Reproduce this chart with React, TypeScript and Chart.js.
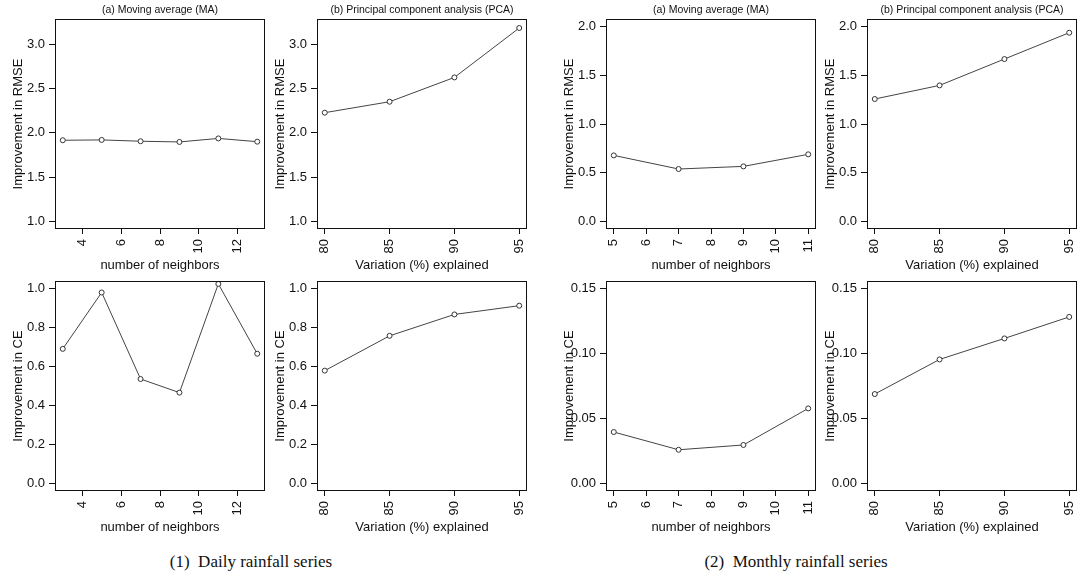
import React, { useEffect, useRef } from "react";
import { Chart, registerables } from "chart.js";

Chart.register(...registerables);

// ---- data ----
const dailyNeighbors = [3, 5, 7, 9, 11, 13];
const monthlyNeighbors = [5, 7, 9, 11];
const pcaVariation = [80, 85, 90, 95];

const dailyMaRmse = [1.916, 1.92, 1.905, 1.897, 1.937, 1.9];
const dailyPcaRmse = [2.228, 2.352, 2.627, 3.186];
const dailyMaCe = [0.691, 0.981, 0.536, 0.466, 1.025, 0.666];
const dailyPcaCe = [0.579, 0.758, 0.868, 0.913];
const monthlyMaRmse = [0.677, 0.537, 0.564, 0.688];
const monthlyPcaRmse = [1.257, 1.397, 1.668, 1.939];
const monthlyMaCe = [0.0395, 0.0258, 0.0295, 0.0577];
const monthlyPcaCe = [0.0688, 0.0955, 0.1117, 0.1283];

// tick labels
const xTicksDailyMa = [4, 6, 8, 10, 12];
const xTicksMonthlyMa = [5, 6, 7, 8, 9, 10, 11];
const xTicksPca = [80, 85, 90, 95];
const yTicksDailyRmse = [1.0, 1.5, 2.0, 2.5, 3.0];
const yTicksDailyCe = [0, 0.2, 0.4, 0.6, 0.8, 1.0];
const yTicksMonthlyRmse = [0, 0.5, 1.0, 1.5, 2.0];
const yTicksMonthlyCe = [0, 0.05, 0.1, 0.15];

// y limits (before R's 4% extension)
const ylimDailyRmse = [1, 3.2];
const ylimDailyCe = [0, 1];
const ylimMonthlyRmse = [0, 2];
const ylimMonthlyCe = [0, 0.15];

const panelTitles = ["(a) Moving average (MA)", "(b) Principal component analysis (PCA)"];
const xTitles = ["number of neighbors", "Variation (%) explained"];
const yTitles = ["Improvement in RMSE", "Improvement in CE"];
const captions = ["(1)  Daily rainfall series", "(2)  Monthly rainfall series"];

const SANS = '"Liberation Sans", Arial, Helvetica, sans-serif';
const INK = "#111";

const extend = (lo: number, hi: number) => {
  const d = (hi - lo) * 0.04;
  return [lo - d, hi + d];
};

type Panel = {
  left: number;
  top: number;
  xs: number[];
  ys: number[];
  xTicks: number[];
  yTicks: number[];
  ylim: number[];
  decimals: number;
  title: string | null;
  xTitle: string;
  yTitle: string;
};

const colLefts = [55, 317, 606, 867];
const rowTops = [19, 281];

const panels: Panel[] = [
  { left: colLefts[0], top: rowTops[0], xs: dailyNeighbors, ys: dailyMaRmse, xTicks: xTicksDailyMa, yTicks: yTicksDailyRmse, ylim: ylimDailyRmse, decimals: 1, title: panelTitles[0], xTitle: xTitles[0], yTitle: yTitles[0] },
  { left: colLefts[1], top: rowTops[0], xs: pcaVariation, ys: dailyPcaRmse, xTicks: xTicksPca, yTicks: yTicksDailyRmse, ylim: ylimDailyRmse, decimals: 1, title: panelTitles[1], xTitle: xTitles[1], yTitle: yTitles[0] },
  { left: colLefts[0], top: rowTops[1], xs: dailyNeighbors, ys: dailyMaCe, xTicks: xTicksDailyMa, yTicks: yTicksDailyCe, ylim: ylimDailyCe, decimals: 1, title: null, xTitle: xTitles[0], yTitle: yTitles[1] },
  { left: colLefts[1], top: rowTops[1], xs: pcaVariation, ys: dailyPcaCe, xTicks: xTicksPca, yTicks: yTicksDailyCe, ylim: ylimDailyCe, decimals: 1, title: null, xTitle: xTitles[1], yTitle: yTitles[1] },
  { left: colLefts[2], top: rowTops[0], xs: monthlyNeighbors, ys: monthlyMaRmse, xTicks: xTicksMonthlyMa, yTicks: yTicksMonthlyRmse, ylim: ylimMonthlyRmse, decimals: 1, title: panelTitles[0], xTitle: xTitles[0], yTitle: yTitles[0] },
  { left: colLefts[3], top: rowTops[0], xs: pcaVariation, ys: monthlyPcaRmse, xTicks: xTicksPca, yTicks: yTicksMonthlyRmse, ylim: ylimMonthlyRmse, decimals: 1, title: panelTitles[1], xTitle: xTitles[1], yTitle: yTitles[0] },
  { left: colLefts[2], top: rowTops[1], xs: monthlyNeighbors, ys: monthlyMaCe, xTicks: xTicksMonthlyMa, yTicks: yTicksMonthlyCe, ylim: ylimMonthlyCe, decimals: 2, title: null, xTitle: xTitles[0], yTitle: yTitles[1] },
  { left: colLefts[3], top: rowTops[1], xs: pcaVariation, ys: monthlyPcaCe, xTicks: xTicksPca, yTicks: yTicksMonthlyCe, ylim: ylimMonthlyCe, decimals: 2, title: null, xTitle: xTitles[1], yTitle: yTitles[1] },
];

const PLOT = 210;
const PAD_L = 55;
const PAD_T = 19;
const PAD_R = 14;
const PAD_B = 45;
const CW = PAD_L + PLOT + PAD_R;
const CH = PAD_T + PLOT + PAD_B;

const framePlugin = {
  id: "frame",
  afterDraw(chart: any, _args: any, opts: any) {
    const { ctx, chartArea: a } = chart;
    ctx.save();
    ctx.strokeStyle = INK;
    ctx.lineWidth = 1;
    ctx.strokeRect(a.left + 0.5, a.top + 0.5, a.right - a.left - 1, a.bottom - a.top - 1);
    ctx.fillStyle = INK;
    ctx.textAlign = "center";
    ctx.textBaseline = "middle";
    const cx = (a.left + a.right) / 2;
    if (opts.title) {
      ctx.font = `10.5px ${SANS}`;
      ctx.fillText(opts.title, cx, a.top - 9);
    }
    ctx.font = `13px ${SANS}`;
    ctx.fillText(opts.xTitle, cx, a.bottom + 36);
    ctx.translate(a.left - 37, (a.top + a.bottom) / 2);
    ctx.rotate(-Math.PI / 2);
    ctx.fillText(opts.yTitle, 0, 0);
    ctx.restore();
  },
};

function makeChart(canvas: HTMLCanvasElement, p: Panel) {
  const [xmin, xmax] = extend(Math.min(...p.xs), Math.max(...p.xs));
  const [ymin, ymax] = extend(p.ylim[0], p.ylim[1]);
  const points = p.xs.map((x, i) => ({ x, y: p.ys[i] }));
  return new Chart(canvas, {
    type: "scatter",
    data: {
      datasets: [
        {
          data: points,
          showLine: true,
          borderColor: "#444",
          borderWidth: 1,
          pointRadius: 2.5,
          pointBorderWidth: 1,
          pointBorderColor: "#333",
          pointBackgroundColor: "#fff",
          clip: false,
        } as any,
      ],
    },
    options: {
      responsive: false,
      animation: false,
      devicePixelRatio: 1,
      events: [],
      layout: { padding: { left: 0, top: PAD_T, right: PAD_R, bottom: 0 } },
      plugins: {
        legend: { display: false },
        tooltip: { enabled: false },
        frame: { title: p.title, xTitle: p.xTitle, yTitle: p.yTitle },
      } as any,
      scales: {
        x: {
          type: "linear",
          min: xmin,
          max: xmax,
          afterBuildTicks: (s: any) => {
            s.ticks = p.xTicks.map((v) => ({ value: v }));
          },
          afterFit: (s: any) => {
            s.height = PAD_B;
          },
          ticks: {
            autoSkip: false,
            minRotation: 90,
            maxRotation: 90,
            padding: 5,
            color: INK,
            font: { family: SANS, size: 13 },
            callback: (v: any) => String(v),
          },
          grid: { drawOnChartArea: false, drawTicks: true, tickLength: 5, color: INK, lineWidth: 1 },
          border: { display: false },
        },
        y: {
          type: "linear",
          min: ymin,
          max: ymax,
          afterBuildTicks: (s: any) => {
            s.ticks = p.yTicks.map((v) => ({ value: v }));
          },
          afterFit: (s: any) => {
            s.width = PAD_L;
          },
          ticks: {
            autoSkip: false,
            padding: 4,
            color: INK,
            font: { family: SANS, size: 13 },
            callback: (v: any) => Number(v).toFixed(p.decimals),
          },
          grid: { drawOnChartArea: false, drawTicks: true, tickLength: 6, color: INK, lineWidth: 1 },
          border: { display: false },
        },
      },
    } as any,
    plugins: [framePlugin as any],
  });
}

export default function App() {
  const refs = useRef<(HTMLCanvasElement | null)[]>([]);

  useEffect(() => {
    const charts = panels.map((p, i) => makeChart(refs.current[i] as HTMLCanvasElement, p));
    return () => charts.forEach((c) => c.destroy());
  }, []);

  return (
    <div
      style={{
        position: "fixed",
        left: 0,
        top: 0,
        width: 1077,
        height: 587,
        overflow: "hidden",
        background: "#fff",
      }}
    >
      {panels.map((p, i) => (
        <canvas
          key={i}
          ref={(el) => {
            refs.current[i] = el;
          }}
          width={CW}
          height={CH}
          style={{
            position: "absolute",
            left: p.left - PAD_L,
            top: p.top - PAD_T,
            width: CW,
            height: CH,
          }}
        />
      ))}
      {captions.map((c, i) => (
        <div
          key={c}
          style={{
            position: "absolute",
            left: (i === 0 ? 251 : 796) - 200,
            top: 552,
            width: 400,
            textAlign: "center",
            fontFamily: '"Liberation Serif", "Times New Roman", serif',
            fontSize: 17,
            lineHeight: "20px",
            color: "#111",
            whiteSpace: "pre",
          }}
        >
          {c}
        </div>
      ))}
    </div>
  );
}
